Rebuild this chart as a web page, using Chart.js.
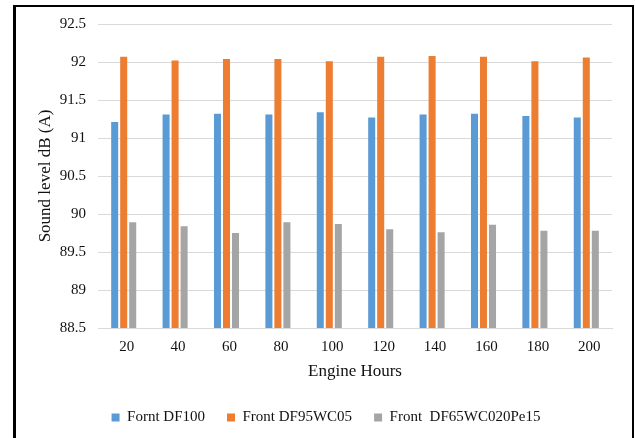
<!DOCTYPE html>
<html>
<head>
<meta charset="utf-8">
<script src="https://cdn.jsdelivr.net/npm/chart.js@4.4.1/dist/chart.umd.min.js"></script>
<style>
  html, body { margin: 0; padding: 0; background: #fff; overflow: hidden; }
  #wrap { position: relative; width: 635px; height: 438px; }
  #frame {
    position: absolute; left: 13px; top: 5px; width: 616px; height: 460px;
    border-left: 3px solid #000; border-top: 2px solid #000; border-right: 2px solid #000;
    pointer-events: none;
  }
  canvas { position: absolute; left: 0; top: 0; }
</style>
</head>
<body>
<div id="wrap">
  <canvas id="myChart" width="635" height="438"></canvas>
  <div id="frame"></div>
</div>
<script>
'use strict';

// DATA
const hours = ['20', '40', '60', '80', '100', '120', '140', '160', '180', '200'];
const df100 = [91.21, 91.31, 91.32, 91.31, 91.34, 91.27, 91.31, 91.32, 91.29, 91.27];
const df95wc05 = [92.07, 92.02, 92.04, 92.04, 92.01, 92.07, 92.08, 92.07, 92.01, 92.06];
const df65wc020pe15 = [89.89, 89.84, 89.75, 89.89, 89.87, 89.8, 89.76, 89.86, 89.78, 89.78];

const seriesNames = ['Fornt DF100', 'Front DF95WC05', 'Front  DF65WC020Pe15'];
const yTicks = [88.5, 89, 89.5, 90, 90.5, 91, 91.5, 92, 92.5];

const serif = '"Liberation Serif", "Times New Roman", serif';

const makeSet = (label, data, color) => ({
  label: label,
  data: data,
  backgroundColor: color,
  borderWidth: 0,
  categoryPercentage: 0.526,
  barPercentage: 0.78,
});

// CHART
const ctx = document.getElementById('myChart').getContext('2d');

const chart = new Chart(ctx, {
  type: 'bar',
  data: {
    labels: hours,
    datasets: [
      makeSet(seriesNames[0], df100, '#5B9BD5'),
      makeSet(seriesNames[1], df95wc05, '#ED7D31'),
      makeSet(seriesNames[2], df65wc020pe15, '#A5A5A5'),
    ],
  },
  options: {
    responsive: false,
    animation: false,
    layout: { padding: { left: 40, right: 23, top: 24, bottom: 3 } },
    plugins: {
      tooltip: { enabled: false },
      legend: {
        position: 'bottom',
        labels: {
          boxWidth: 8,
          boxHeight: 8,
          padding: 22,
          color: '#111',
          font: { family: serif, size: 15 },
        },
      },
    },
    scales: {
      x: {
        grid: { display: false, drawTicks: false },
        border: { display: true, color: '#d9d9d9', width: 1 },
        ticks: { color: '#111', padding: 10, labelOffset: 3, font: { family: serif, size: 15 } },
        title: {
          display: true,
          text: 'Engine Hours',
          color: '#111',
          padding: { top: 0, bottom: 6 },
          font: { family: serif, size: 17 },
        },
        afterFit: function (scale) {
          scale.height = 60;
        },
      },
      y: {
        min: 88.5,
        max: 92.5,
        afterBuildTicks: function (scale) {
          scale.ticks = yTicks.map(v => ({ value: v }));
        },
        grid: { color: '#d9d9d9', drawTicks: false },
        border: { display: false },
        ticks: {
          color: '#111',
          padding: 12,
          font: { family: serif, size: 15 },
          callback: value => String(value),
        },
        title: {
          display: true,
          text: 'Sound level dB (A)',
          color: '#111',
          padding: { top: -5, bottom: 0 },
          font: { family: serif, size: 17 },
        },
        afterFit: function (scale) {
          scale.width = 58;
        },
      },
    },
  },
});
</script>
</body>
</html>
